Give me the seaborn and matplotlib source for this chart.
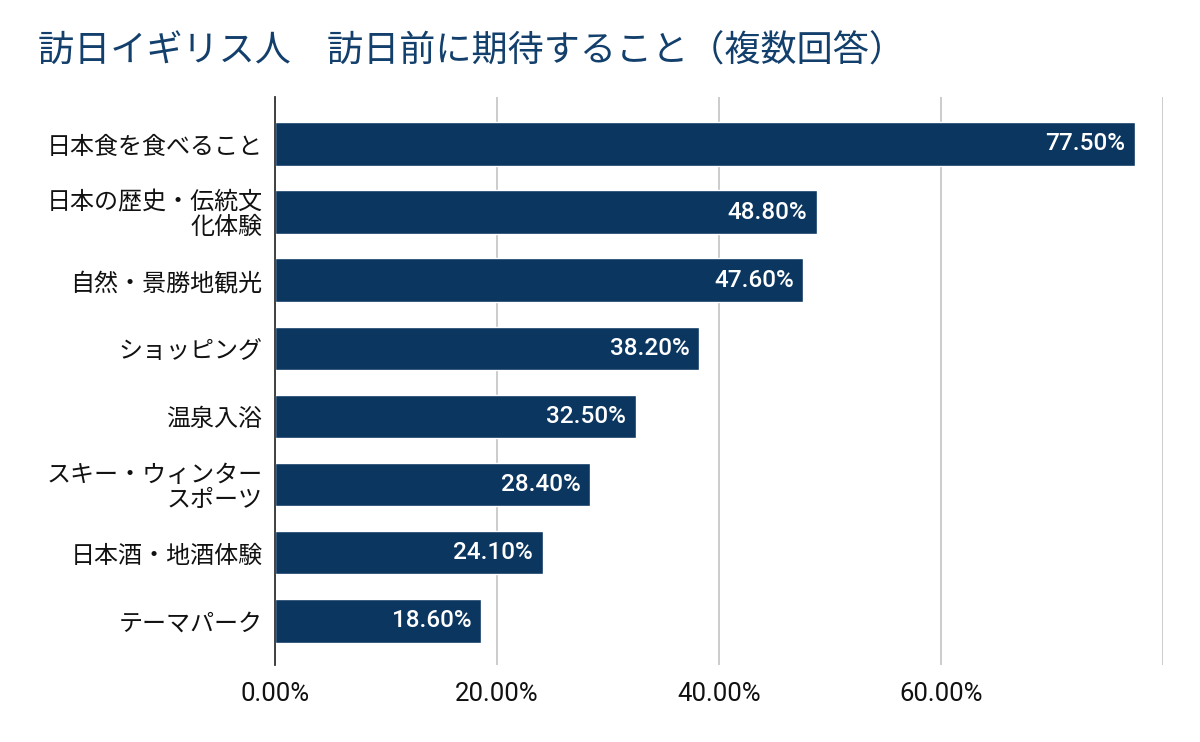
import matplotlib
matplotlib.use("Agg")
import matplotlib.pyplot as plt
import seaborn as sns
import pandas as pd
from matplotlib.ticker import FuncFormatter

categories = ["日本食を食べること", "日本の歴史・伝統文\n化体験", "自然・景勝地観光",
              "ショッピング", "温泉入浴", "スキー・ウィンター\nスポーツ",
              "日本酒・地酒体験", "テーマパーク"]
values = [77.5, 48.8, 47.6, 38.2, 32.5, 28.4, 24.1, 18.6]
xticks = [0, 20, 40, 60, 80]

sns.set_style("white")
plt.rcParams['font.family'] = ['Roboto', 'Noto Sans CJK JP', 'DejaVu Sans']

df = pd.DataFrame({"item": categories, "pct": values})
bar_color = "#0b3660"

fig = plt.figure(figsize=(12, 7.42), dpi=100)
ax = fig.add_axes([275 / 1200, 1 - 665 / 742, (1163 - 275) / 1200, (665 - 97) / 742])
sns.barplot(data=df, x="pct", y="item", color=bar_color, width=0.64, ax=ax,
            saturation=1, orient="h")

ax.set_xlim(0, 80)
ax.set_ylim(7.65, -0.69)
ax.set_xticks(xticks)
ax.xaxis.set_major_formatter(FuncFormatter(lambda v, p: "" if v >= 80 else f"{v:.2f}%"))
ax.grid(axis="x", color="#c8c8c8", linewidth=1.3)
ax.set_axisbelow(True)
for s in ["top", "right", "bottom"]:
    ax.spines[s].set_visible(False)
ax.spines["left"].set_color("#333333")
ax.spines["left"].set_linewidth(1.3)
ax.tick_params(axis="x", length=0, labelsize=18.5, pad=12, colors="#111111")
ax.tick_params(axis="y", length=0, labelsize=17.3, pad=9, colors="#111111")
for lbl in ax.get_yticklabels():
    lbl.set_family(['Noto Sans CJK JP', 'DejaVu Sans'])
    lbl.set_linespacing(0.95)
ax.set_xlabel("")
ax.set_ylabel("")

for cont in ax.containers:
    texts = ax.bar_label(cont, labels=[f"{v:.2f}%" for v in values], padding=-7,
                         color="white", fontsize=17.5, fontweight="medium",
                         label_type="edge")
    for t in texts:
        t.set_horizontalalignment("right")

fig.text(38 / 1200, 1 - 52 / 742, "訪日イギリス人　訪日前に期待すること（複数回答）",
         fontsize=26, color="#123f6b", va="center", ha="left",
         family=['Noto Sans CJK JP', 'DejaVu Sans'])

fig.savefig("out.png", dpi=100)
